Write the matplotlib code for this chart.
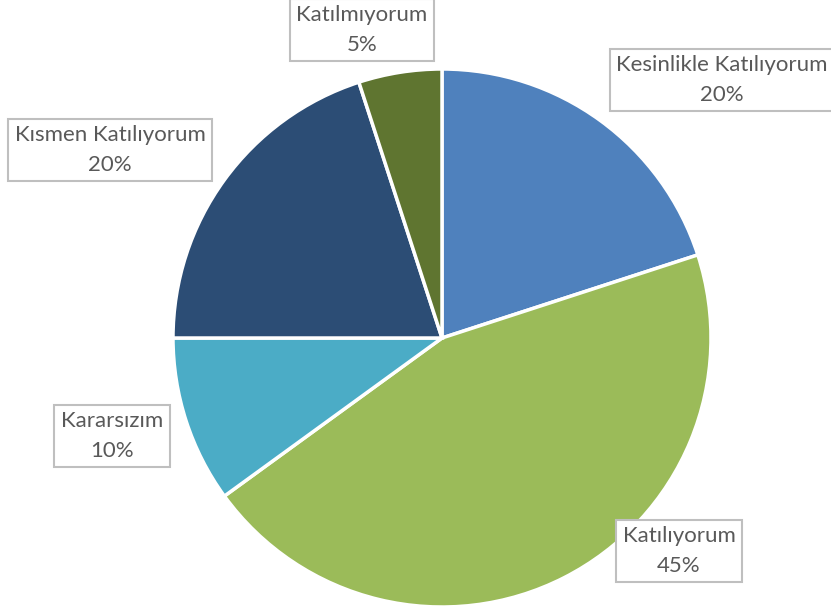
import matplotlib
matplotlib.use("Agg")
import matplotlib.pyplot as plt

# Survey responses
categories = ["Kesinlikle Katılıyorum", "Katılıyorum", "Kararsızım",
              "Kısmen Katılıyorum", "Katılmıyorum"]
shares = [20, 45, 10, 20, 5]
colors = ["#4F81BD", "#9BBB59", "#4BACC6", "#2C4D75", "#5F7530"]

# Label anchor positions (figure pixels, origin top-left)
label_pos = [(722, 80), (679, 551), (112, 436), (110, 150), (362, 30)]

W, H = 831, 615
fig = plt.figure(figsize=(W / 100, H / 100), dpi=100)
ax = fig.add_axes([0, 0, 1, 1])

cx, cy, r = 442, H - 338, 269
ax.pie(shares, colors=colors, startangle=90, counterclock=False,
       center=(cx, cy), radius=r, frame=True,
       wedgeprops=dict(edgecolor="white", linewidth=2.5))
ax.set_xlim(0, W)
ax.set_ylim(0, H)
ax.set_aspect("equal")
ax.axis("off")

for cat, val, (px, py) in zip(categories, shares, label_pos):
    ax.text(px, H - py, f"{cat}\n{val}%", ha="center", va="center",
            multialignment="center", fontsize=16, color="#595959",
            family="Lato", linespacing=1.6,
            bbox=dict(boxstyle="square,pad=0.3", facecolor="white",
                      edgecolor="#BFBFBF", linewidth=1.5))

fig.savefig("out.png", dpi=100)
